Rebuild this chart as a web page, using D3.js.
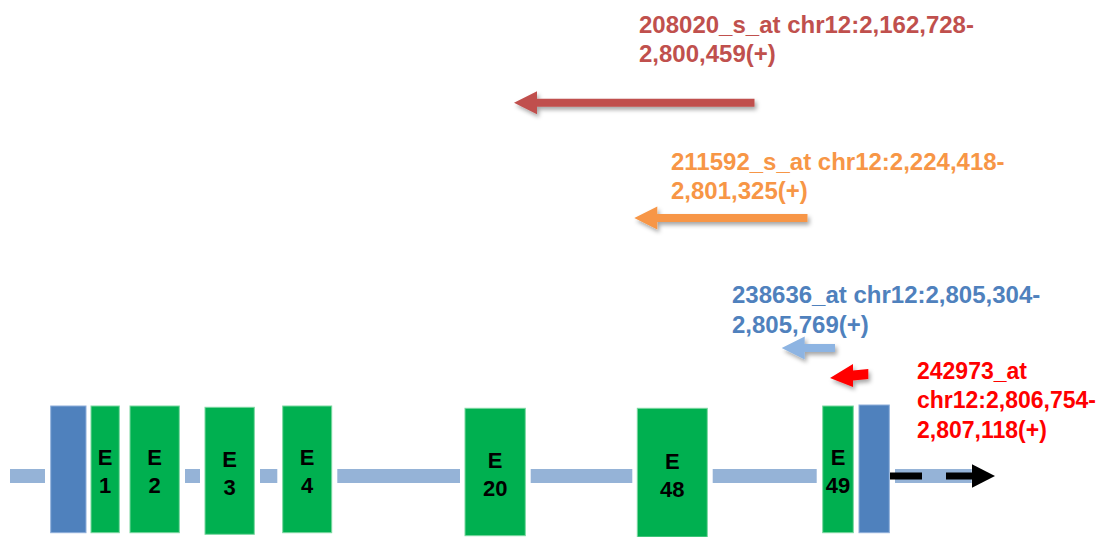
<!DOCTYPE html>
<html>
<head>
<meta charset="utf-8">
<script src="https://cdn.jsdelivr.net/npm/d3@7"></script>
<style>
  body { margin: 0; background: #fff; }
  svg { display: block; font-family: Arial, "Liberation Sans", sans-serif; font-weight: bold; }
</style>
</head>
<body>
<div id="chart"></div>
<script>
// schematic units: 1 unit = 10 px across, 10 px down

// gene model (UTR boxes + exons)
const featureNames = ["UTR5", "E1", "E2", "E3", "E4", "E20", "E48", "E49", "UTR3"];
const featureTypes = ["utr", "exon", "exon", "exon", "exon", "exon", "exon", "exon", "utr"];
const featureStart = [5.07, 9.1, 13.0, 20.5, 28.27, 46.5, 63.73, 82.27, 85.9];
const featureEnd   = [8.6, 11.93, 17.93, 25.43, 33.17, 52.53, 70.73, 85.33, 88.93];
const featureTop   = [40.6, 40.6, 40.6, 40.73, 40.6, 40.83, 40.83, 40.6, 40.5];
const featureBottom = [53.27, 53.27, 53.27, 53.43, 53.27, 53.57, 53.7, 53.27, 53.27];

// intron line pieces (visible between boxes)
const intronStart = [1.0, 18.5, 26.0, 33.73, 53.07, 71.27, 89.5];
const intronEnd   = [4.5, 20.0, 27.73, 46.0, 63.23, 81.67, 97.17];
const intronY = 47.6;

// probe sets: arrows point to the left (tip < tail)
const probeIds = ["208020_s_at", "211592_s_at", "238636_at", "242973_at"];
const probeLines = [
  ["208020_s_at chr12:2,162,728-", "2,800,459(+)"],
  ["211592_s_at chr12:2,224,418-", "2,801,325(+)"],
  ["238636_at chr12:2,805,304-", "2,805,769(+)"],
  ["242973_at", "chr12:2,806,754-", "2,807,118(+)"]
];
const probeTip  = [51.4, 63.43, 78.17, 83.0];
const probeTail = [75.45, 80.75, 83.5, 86.83];
const probeY    = [10.28, 21.8, 34.8, 37.8];
const probeTiltY = [0, 0, 0, -0.4];   // tail offset for the tilted red arrow
const probeLabelX = [63.9, 67.1, 73.2, 91.7];
const probeLabelY = [3.3, 16.95, 30.33, 37.9];

// transcription direction arrow
const dirDashStart = 89.0, dirDashEnd = 97.2, dirTip = 99.5;

const width = 1106, height = 537;

const xScale = d3.scaleLinear().domain([0, 110.6]).range([0, width]);
const yScale = d3.scaleLinear().domain([0, 53.7]).range([0, height]);

const colors = {
  utr: "#4F81BD", utrEdge: "#8EAEDA",
  exon: "#00B050", exonEdge: "#7BD8A0",
  intron: "#95B3D7",
  probe: ["#C0504D", "#F79646", "#8DB4E2", "#FF0000"],
  probeText: ["#C0504D", "#F79646", "#4F81BD", "#FF0000"]
};

const svg = d3.select("#chart").append("svg")
  .attr("width", width)
  .attr("height", height);

const defs = svg.append("defs");
defs.append("filter")
  .attr("id", "shadow")
  .attr("x", "-20%").attr("y", "-50%")
  .attr("width", "150%").attr("height", "250%")
  .append("feDropShadow")
  .attr("dx", 2).attr("dy", 3)
  .attr("stdDeviation", 2)
  .attr("flood-color", "#000")
  .attr("flood-opacity", 0.35);

// intron line
svg.selectAll("rect.intron")
  .data(d3.range(intronStart.length))
  .join("rect")
  .attr("class", "intron")
  .attr("x", i => xScale(intronStart[i]))
  .attr("width", i => xScale(intronEnd[i]) - xScale(intronStart[i]))
  .attr("y", yScale(intronY) - 7)
  .attr("height", 14)
  .attr("fill", colors.intron);

// boxes
const features = d3.range(featureNames.length).map(i => ({
  name: featureNames[i], type: featureTypes[i],
  x0: featureStart[i], x1: featureEnd[i],
  y0: featureTop[i], y1: featureBottom[i]
}));

svg.selectAll("rect.feature")
  .data(features)
  .join("rect")
  .attr("class", "feature")
  .attr("x", d => xScale(d.x0))
  .attr("y", d => yScale(d.y0))
  .attr("width", d => xScale(d.x1) - xScale(d.x0))
  .attr("height", d => yScale(d.y1) - yScale(d.y0))
  .attr("fill", d => colors[d.type])
  .attr("stroke", d => colors[d.type + "Edge"])
  .attr("stroke-width", 1);

// exon labels, "E" over the number
const exonLabels = svg.selectAll("text.exon")
  .data(features.filter(d => d.type === "exon"))
  .join("text")
  .attr("class", "exon")
  .attr("text-anchor", "middle")
  .attr("font-size", 22)
  .attr("fill", "#000");

exonLabels.append("tspan")
  .attr("x", d => (xScale(d.x0) + xScale(d.x1)) / 2)
  .attr("y", d => (yScale(d.y0) + yScale(d.y1)) / 2 - 4)
  .text("E");
exonLabels.append("tspan")
  .attr("x", d => (xScale(d.x0) + xScale(d.x1)) / 2)
  .attr("y", d => (yScale(d.y0) + yScale(d.y1)) / 2 + 24)
  .text(d => d.name.slice(1));

// block arrow pointing left
function leftArrow(tip, tail, y, tailDy, shaft, headLen, headHalf) {
  const xt = xScale(tip), xe = xScale(tail), yc = yScale(y);
  const xh = xt + headLen;
  const ye = yc + tailDy;
  const yh = yc + tailDy * (headLen / (xe - xt));
  return d3.line()([
    [xt, yc],
    [xh, yh - headHalf],
    [xh, yh - shaft / 2],
    [xe, ye - shaft / 2],
    [xe, ye + shaft / 2],
    [xh, yh + shaft / 2],
    [xh, yh + headHalf]
  ]) + "Z";
}

const probes = d3.range(probeIds.length).map(i => ({
  id: probeIds[i], lines: probeLines[i],
  tip: probeTip[i], tail: probeTail[i], y: probeY[i], tilt: probeTiltY[i],
  lx: probeLabelX[i], ly: probeLabelY[i], i
}));

svg.selectAll("path.probe")
  .data(probes)
  .join("path")
  .attr("class", "probe")
  .attr("d", d => d.i === 3
    ? leftArrow(d.tip, d.tail, d.y, yScale(d.tilt), 10, 23, 11.5)
    : leftArrow(d.tip, d.tail, d.y, 0, 8, 23, 11.5))
  .attr("fill", d => colors.probe[d.i])
  .attr("filter", "url(#shadow)");

const probeText = svg.selectAll("text.probe")
  .data(probes)
  .join("text")
  .attr("class", "probe")
  .attr("font-size", d => d.i === 3 ? 23 : 24)
  .attr("fill", d => colors.probeText[d.i]);

probeText.selectAll("tspan")
  .data(d => d.lines.map((t, k) => ({ t, k, d })))
  .join("tspan")
  .attr("x", e => xScale(e.d.lx))
  .attr("y", e => yScale(e.d.ly) + e.k * 29.3)
  .text(e => e.t);

// direction of transcription
svg.append("line")
  .attr("x1", xScale(dirDashStart))
  .attr("x2", xScale(dirDashEnd))
  .attr("y1", yScale(intronY))
  .attr("y2", yScale(intronY))
  .attr("stroke", "#000")
  .attr("stroke-width", 7)
  .attr("stroke-dasharray", "32 24");

svg.append("path")
  .attr("d", d3.line()([
    [xScale(dirDashEnd), yScale(intronY) - 11.7],
    [xScale(dirTip), yScale(intronY)],
    [xScale(dirDashEnd), yScale(intronY) + 11.7]
  ]) + "Z")
  .attr("fill", "#000");
</script>
</body>
</html>
